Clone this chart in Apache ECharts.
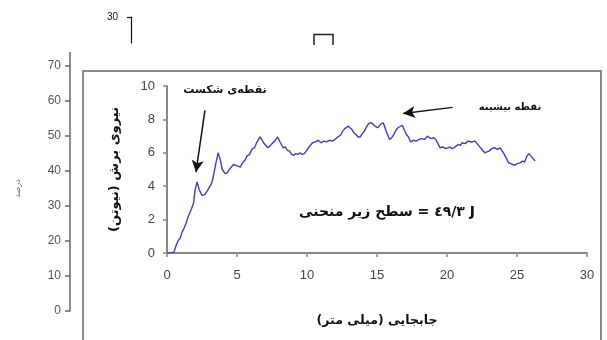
<!DOCTYPE html>
<html><head><meta charset="utf-8">
<script src="https://cdn.jsdelivr.net/npm/echarts@6/dist/echarts.min.js"></script>
<style>html,body{margin:0;padding:0;background:#fff}#c{width:607px;height:340px}</style>
</head><body><div id="c"></div>
<script>
// displacement (mm) and shear force (N)
const displacement = [0,0.3,0.5,0.65,0.8,0.95,1.1,1.2,1.35,1.5,1.6,1.75,1.9,2.0,2.15,2.3,2.5,2.7,2.9,3.0,3.1,3.2,3.3,3.45,3.65,3.8,3.95,4.15,4.3,4.4,4.6,4.75,4.85,5.05,5.25,5.35,5.45,5.6,5.7,5.9,6.0,6.1,6.25,6.4,6.5,6.65,6.8,6.9,7.05,7.2,7.35,7.5,7.7,7.9,8.1,8.3,8.45,8.6,8.75,8.9,9.05,9.2,9.35,9.5,9.65,9.8,9.95,10.1,10.25,10.4,10.6,10.8,11.0,11.2,11.4,11.6,11.8,12.0,12.2,12.4,12.55,12.7,12.95,13.2,13.35,13.5,13.65,13.8,13.95,14.1,14.25,14.4,14.6,14.85,15.05,15.25,15.45,15.65,15.9,16.05,16.2,16.35,16.5,16.8,17.1,17.25,17.4,17.6,17.8,18.0,18.2,18.4,18.6,18.75,18.9,19.05,19.2,19.35,19.5,19.7,19.9,20.05,20.2,20.35,20.5,20.65,20.8,20.95,21.1,21.3,21.5,21.75,22.0,22.15,22.3,22.5,22.7,22.85,23.0,23.2,23.4,23.6,23.8,23.95,24.1,24.25,24.4,24.55,24.7,24.85,25.0,25.2,25.4,25.55,25.7,25.85,26.0,26.1,26.3];
const force = [0,0.02,0.05,0.45,0.75,0.9,1.3,1.45,1.75,2.15,2.2,2.65,3.0,3.75,4.25,3.8,3.45,3.5,3.75,3.85,4.05,4.2,4.55,5.2,6.0,5.6,5.0,4.75,4.8,4.95,5.15,5.3,5.4,5.2,5.15,5.35,5.45,5.6,5.8,5.9,6.1,6.25,6.3,6.6,6.7,6.95,6.75,6.6,6.45,6.3,6.4,6.55,6.7,6.95,6.6,6.3,6.35,6.15,6.1,5.9,5.85,5.95,5.9,6.0,5.9,5.95,6.1,6.3,6.45,6.6,6.65,6.75,6.6,6.7,6.65,6.75,6.7,6.8,6.95,7.05,7.3,7.45,7.6,7.4,7.2,7.1,6.95,6.95,7.15,7.3,7.55,7.75,7.8,7.6,7.5,7.7,7.8,7.3,6.8,6.9,7.1,7.35,7.5,7.65,7.1,6.95,6.65,6.75,6.7,6.8,6.85,6.8,7.0,6.9,6.85,6.9,6.8,6.55,6.3,6.35,6.25,6.3,6.35,6.25,6.3,6.4,6.5,6.45,6.6,6.55,6.7,6.65,6.7,6.55,6.4,6.2,6.0,6.05,6.1,6.25,6.3,6.2,6.3,6.1,5.9,5.65,5.4,5.35,5.3,5.25,5.35,5.4,5.5,5.45,5.8,5.95,5.8,5.7,5.5];
// axes
const xMin = 0, xMax = 30, xStep = 5;
const yMin = 0, yMax = 10, yStep = 2;
const bgMin = 0, bgMax = 70, bgStep = 10;
const topTick = [30];
// annotation arrows [from, to] in data coordinates
const arrowBreak = [[2.71, 8.54], [2.07, 4.84]];
const arrowPeak = [[20.4, 8.72], [16.86, 8.36]];

const points = displacement.map((d, i) => [d, force[i]]);
const AR = '"DejaVu Sans", sans-serif';
const LAT = '"Liberation Sans", Arial, sans-serif';
const RLM = '\u200F', LRM = '\u200E';

const chart = echarts.init(document.getElementById('c'), null, {renderer: 'canvas'});
chart.setOption({
  animation: false,
  backgroundColor: '#ffffff',
  grid: [
    {left: 70, top: 66, width: 10, height: 245},
    {left: 167, top: 86, width: 420, height: 167},
    {left: 131, top: 17, width: 10, height: 26}
  ],
  xAxis: [
    {gridIndex: 0, show: false, type: 'value'},
    {gridIndex: 1, type: 'value', min: xMin, max: xMax, interval: xStep,
     axisLine: {lineStyle: {color: '#888', width: 2}},
     axisTick: {length: 4, lineStyle: {color: '#888', width: 1.5}},
     splitLine: {show: false},
     axisLabel: {color: '#444', fontSize: 13, fontFamily: LAT, margin: 16},
     name: 'جابجایی (میلی متر)' + RLM, nameLocation: 'middle', nameGap: 61,
     nameTextStyle: {fontFamily: AR, fontWeight: 'bold', fontSize: 12.5, color: '#111'}},
    {gridIndex: 2, show: false, type: 'value'}
  ],
  yAxis: [
    {gridIndex: 0, type: 'value', min: bgMin, max: bgMax, interval: bgStep,
     axisLine: {show: true, lineStyle: {color: '#666', width: 1.5}},
     axisTick: {show: true, length: 5, lineStyle: {color: '#666', width: 1.5}},
     splitLine: {show: false},
     axisLabel: {color: '#555', fontSize: 12, fontFamily: LAT, margin: 9},
     name: 'درصد', nameLocation: 'middle', nameGap: 48,
     nameTextStyle: {fontFamily: AR, fontSize: 8, color: '#666'}},
    {gridIndex: 1, type: 'value', min: yMin, max: yMax, interval: yStep,
     axisLine: {show: true, lineStyle: {color: '#888', width: 2}},
     axisTick: {show: true, length: 4, lineStyle: {color: '#888', width: 1.5}},
     splitLine: {show: false},
     axisLabel: {color: '#444', fontSize: 13, fontFamily: LAT, margin: 12},
     name: 'نیروی برش (نیوتن)' + RLM, nameLocation: 'middle', nameGap: 46,
     nameTextStyle: {fontFamily: AR, fontWeight: 'bold', fontSize: 13, color: '#111'}},
    {gridIndex: 2, type: 'value', min: 0, max: 30, interval: 30,
     axisLine: {show: true, lineStyle: {color: '#111', width: 1.2}},
     axisTick: {show: true, length: 4, customValues: topTick, lineStyle: {color: '#111', width: 1.2}},
     splitLine: {show: false},
     axisLabel: {color: '#111', fontSize: 10, fontFamily: LAT, margin: 13, customValues: topTick}}
  ],
  series: [{
    type: 'line', xAxisIndex: 1, yAxisIndex: 1, data: points,
    showSymbol: false, symbol: 'none', z: 5,
    lineStyle: {color: '#4040b4', width: 1.4},
    markLine: {
      silent: true, symbol: ['none', 'arrow'], symbolSize: [9, 12],
      label: {show: false},
      lineStyle: {color: '#111', width: 1.5, type: 'solid'},
      data: [
        [{coord: arrowBreak[0]}, {coord: arrowBreak[1]}],
        [{coord: arrowPeak[0]}, {coord: arrowPeak[1]}]
      ]
    }
  }],
  graphic: [
    {type: 'rect', z: -10, shape: {x: 83, y: 71, width: 518, height: 300},
     style: {fill: '#fff', stroke: '#8a8a8a', lineWidth: 2}},
    {type: 'line', shape: {x1: 70, y1: 52, x2: 70, y2: 66}, style: {stroke: '#666', lineWidth: 1.5}},
    {type: 'polyline', shape: {points: [[314, 45], [314, 34.5], [333, 34.5], [333, 45]]},
     style: {stroke: '#222', lineWidth: 1.5, fill: null}},
    {type: 'text', x: 225, y: 90, style: {text: 'نقطه\u200Cی شکست', font: 'bold 11px ' + AR, fill: '#111', textAlign: 'center', textVerticalAlign: 'middle'}},
    {type: 'text', x: 510, y: 107, style: {text: 'نقطه بیشینه', font: 'bold 10px ' + AR, fill: '#111', textAlign: 'center', textVerticalAlign: 'middle'}},
    {type: 'text', x: 387, y: 212, style: {text: 'سطح زیر منحنی' + LRM + ' = \u0664\u0669/\u0663 J', font: 'bold 14px ' + AR, fill: '#111', textAlign: 'center', textVerticalAlign: 'middle'}}
  ]
});
</script></body></html>
